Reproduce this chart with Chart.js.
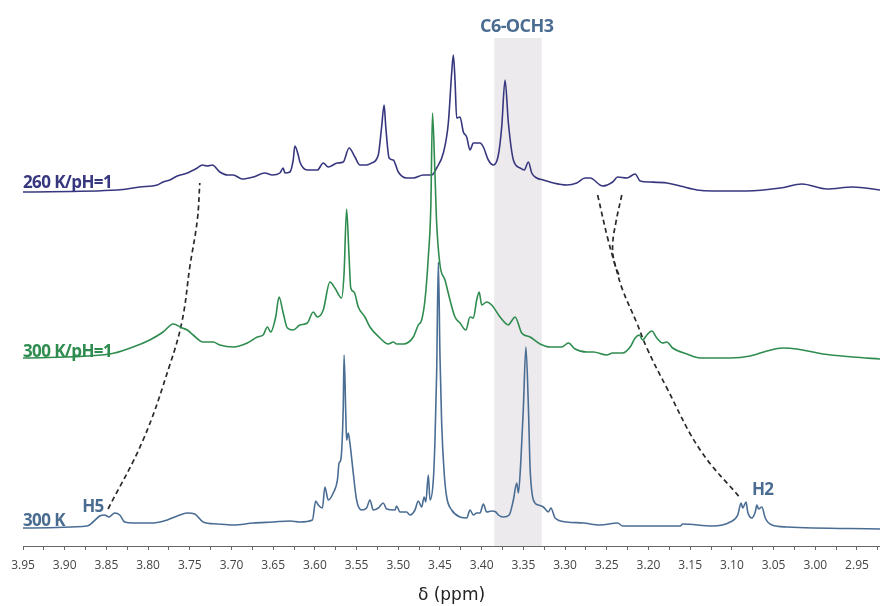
<!DOCTYPE html>
<html>
<head>
<meta charset="utf-8">
<script src="https://cdn.jsdelivr.net/npm/chart.js@4.4.1/dist/chart.umd.min.js"></script>
<style>
  html, body { margin: 0; padding: 0; background: #fff; }
  #nmrChart { display: block; }
</style>
</head>
<body>
<canvas id="nmrChart" width="880" height="606"></canvas>
<script>
// 260 K / pH=1 spectrum (ppm, intensity a.u.)
const ppm260 = [3.950, 3.837, 3.810, 3.789, 3.782, 3.774, 3.765, 3.753, 3.741, 3.735, 3.729, 3.723, 3.714, 3.705, 3.698, 3.687, 3.674, 3.660, 3.651, 3.642, 3.638, 3.636, 3.630, 3.626, 3.624, 3.620, 3.618, 3.609, 3.597, 3.590, 3.584, 3.573, 3.566, 3.559, 3.552, 3.546, 3.538, 3.532, 3.524, 3.520, 3.517, 3.515, 3.511, 3.506, 3.500, 3.490, 3.482, 3.470, 3.460, 3.454, 3.446, 3.440, 3.436, 3.434, 3.432, 3.430, 3.426, 3.422, 3.418, 3.414, 3.410, 3.402, 3.398, 3.392, 3.386, 3.380, 3.376, 3.372, 3.368, 3.362, 3.354, 3.349, 3.344, 3.340, 3.334, 3.326, 3.314, 3.298, 3.286, 3.276, 3.270, 3.255, 3.243, 3.237, 3.226, 3.216, 3.210, 3.198, 3.178, 3.162, 3.142, 3.123, 3.082, 3.042, 3.016, 2.986, 2.955, 2.922];
const int260 = [354, 356, 359, 361, 364, 366, 370, 373, 378, 381, 380, 381, 374, 371, 371, 367, 369, 373, 371, 373, 378, 373, 374, 386, 400, 391, 384, 376, 376, 383, 379, 383, 384, 398, 389, 381, 381, 383, 391, 419, 441, 419, 388, 386, 374, 368, 368, 371, 371, 378, 393, 423, 473, 491, 466, 428, 429, 414, 409, 396, 403, 403, 399, 386, 381, 391, 419, 466, 423, 386, 378, 376, 384, 373, 368, 366, 363, 361, 363, 368, 368, 360, 364, 369, 368, 372, 365, 364, 363, 360, 356, 355, 355, 358, 362, 357, 359, 356];

// 300 K / pH=1 spectrum
const ppm300pH = [3.950, 3.846, 3.818, 3.798, 3.782, 3.770, 3.759, 3.753, 3.746, 3.734, 3.722, 3.714, 3.698, 3.681, 3.669, 3.662, 3.657, 3.653, 3.647, 3.643, 3.638, 3.633, 3.626, 3.618, 3.609, 3.602, 3.597, 3.590, 3.582, 3.576, 3.568, 3.565, 3.562, 3.559, 3.557, 3.553, 3.548, 3.540, 3.534, 3.522, 3.512, 3.506, 3.502, 3.494, 3.482, 3.476, 3.472, 3.468, 3.464, 3.461, 3.459, 3.456, 3.454, 3.450, 3.444, 3.438, 3.432, 3.426, 3.419, 3.414, 3.410, 3.406, 3.403, 3.400, 3.394, 3.388, 3.378, 3.368, 3.365, 3.360, 3.352, 3.342, 3.330, 3.318, 3.304, 3.296, 3.288, 3.274, 3.266, 3.250, 3.243, 3.231, 3.222, 3.216, 3.211, 3.207, 3.202, 3.196, 3.190, 3.183, 3.178, 3.171, 3.154, 3.138, 3.102, 3.078, 3.058, 3.039, 3.022, 2.991, 2.955, 2.922];
const int300pH = [188, 192, 199, 206, 214, 222, 218, 216, 211, 204, 204, 201, 199, 203, 209, 211, 219, 214, 229, 249, 233, 218, 216, 221, 223, 234, 229, 236, 264, 258, 248, 273, 337, 289, 258, 254, 239, 229, 219, 208, 202, 204, 202, 202, 209, 221, 226, 246, 289, 339, 433, 371, 323, 281, 266, 246, 229, 223, 216, 229, 228, 246, 254, 241, 244, 241, 229, 221, 224, 229, 213, 209, 202, 199, 199, 203, 197, 194, 194, 191, 193, 193, 199, 208, 211, 206, 211, 215, 208, 203, 204, 198, 192, 188, 188, 190, 195, 198, 197, 192, 189, 187];

// 300 K spectrum
const ppm300 = [3.950, 3.873, 3.866, 3.858, 3.852, 3.847, 3.840, 3.834, 3.828, 3.818, 3.794, 3.777, 3.765, 3.753, 3.744, 3.734, 3.717, 3.698, 3.674, 3.650, 3.630, 3.618, 3.603, 3.599, 3.596, 3.591, 3.588, 3.584, 3.578, 3.573, 3.571, 3.569, 3.566, 3.565, 3.563, 3.562, 3.560, 3.558, 3.554, 3.550, 3.544, 3.538, 3.534, 3.530, 3.524, 3.518, 3.514, 3.504, 3.502, 3.498, 3.490, 3.486, 3.480, 3.476, 3.472, 3.469, 3.467, 3.464, 3.462, 3.458, 3.456, 3.454, 3.452, 3.450, 3.448, 3.445, 3.442, 3.436, 3.426, 3.418, 3.414, 3.410, 3.406, 3.402, 3.398, 3.394, 3.388, 3.383, 3.380, 3.374, 3.367, 3.362, 3.358, 3.356, 3.353, 3.350, 3.347, 3.344, 3.342, 3.338, 3.332, 3.326, 3.320, 3.317, 3.312, 3.298, 3.278, 3.258, 3.237, 3.231, 3.202, 3.162, 3.159, 3.123, 3.102, 3.093, 3.089, 3.087, 3.083, 3.081, 3.076, 3.072, 3.070, 3.068, 3.064, 3.060, 3.052, 3.034, 2.922];
const int300 = [18, 20, 24, 30, 31, 29, 33, 31, 24, 23, 23, 26, 30, 33, 32, 24, 22, 21, 23, 24, 25, 24, 26, 45, 41, 38, 59, 46, 53, 66, 83, 86, 139, 191, 133, 106, 113, 103, 73, 46, 36, 38, 46, 36, 38, 43, 37, 36, 40, 34, 34, 31, 36, 45, 39, 49, 44, 71, 46, 66, 106, 173, 284, 189, 123, 73, 49, 36, 29, 28, 36, 31, 33, 33, 42, 34, 35, 34, 31, 29, 31, 46, 63, 53, 86, 139, 199, 139, 79, 46, 41, 39, 34, 38, 28, 24, 23, 21, 23, 20, 20, 20, 22, 20, 24, 31, 43, 38, 44, 34, 28, 34, 41, 37, 39, 28, 21, 19, 17];

// dashed guides following H5 and H2 between spectra
const ppmH5 = [3.848, 3.806, 3.774, 3.759, 3.750, 3.741, 3.738];
const intH5 = [37, 106, 181, 226, 279, 326, 363];
const ppmH2a = [3.261, 3.249, 3.239, 3.231, 3.214, 3.202, 3.178, 3.138, 3.090];
const intH2a = [351, 308, 278, 256, 223, 198, 158, 96, 48];
const ppmH2b = [3.232, 3.239, 3.243, 3.241, 3.234];
const intH2b = [351, 324, 301, 284, 268];

// x axis ticks
const tickValues = [3.95, 3.925, 3.9, 3.875, 3.85, 3.825, 3.8, 3.775, 3.75, 3.725, 3.7, 3.675, 3.65, 3.625, 3.6, 3.575, 3.55, 3.525, 3.5, 3.475, 3.45, 3.425, 3.4, 3.375, 3.35, 3.325, 3.3, 3.275, 3.25, 3.225, 3.2, 3.175, 3.15, 3.125, 3.1, 3.075, 3.05, 3.025, 3.0, 2.975, 2.95, 2.925];
const tickText = ['3.95', '', '3.90', '', '3.85', '', '3.80', '', '3.75', '', '3.70', '', '3.65', '', '3.60', '', '3.55', '', '3.50', '', '3.45', '', '3.40', '', '3.35', '', '3.30', '', '3.25', '', '3.20', '', '3.15', '', '3.10', '', '3.05', '', '3.00', '', '2.95', ''];

// shaded C6-OCH3 region
const bandFrom = 3.385;
const bandTo = 3.328;
const bandTop = 508;

const NAVY = '#37377f';
const GREEN = '#2f8c4f';
const BLUE = '#4a6d94';
const LABEL_BLUE = '#4b6c91';

function pts(xs, ys) {
    return xs.map((x, i) => ({ x: x, y: ys[i] }));
}

const labels = [
    { text: '260 K/pH=1', x: 3.950, y: 358, color: NAVY, align: 'left', size: 17 },
    { text: '300 K/pH=1', x: 3.950, y: 189, color: GREEN, align: 'left', size: 17 },
    { text: '300 K', x: 3.950, y: 20, color: LABEL_BLUE, align: 'left', size: 17 },
    { text: 'H5', x: 3.879, y: 34, color: LABEL_BLUE, align: 'left', size: 17 },
    { text: 'H2', x: 3.076, y: 51, color: LABEL_BLUE, align: 'left', size: 17 },
    { text: 'C6-OCH3', x: 3.358, y: 514, color: LABEL_BLUE, align: 'center', size: 18 }
];

const bandPlugin = {
    id: 'band',
    beforeDatasetsDraw(chart) {
        const { ctx, chartArea, scales } = chart;
        const x1 = scales.x.getPixelForValue(bandFrom);
        const x2 = scales.x.getPixelForValue(bandTo);
        const top = scales.y.getPixelForValue(bandTop);
        ctx.save();
        ctx.fillStyle = '#edeaed';
        ctx.fillRect(Math.min(x1, x2), top, Math.abs(x2 - x1), chartArea.bottom - top);
        ctx.restore();
    }
};

const labelPlugin = {
    id: 'labels',
    afterDatasetsDraw(chart) {
        const { ctx, scales } = chart;
        ctx.save();
        ctx.textBaseline = 'alphabetic';
        ctx.letterSpacing = '-0.6px';
        labels.forEach(l => {
            ctx.font = 'bold ' + l.size + 'px "Open Sans"';
            ctx.fillStyle = l.color;
            ctx.textAlign = l.align;
            ctx.fillText(l.text, scales.x.getPixelForValue(l.x), scales.y.getPixelForValue(l.y));
        });
        ctx.restore();
    }
};

const spectrumStyle = { pointRadius: 0, borderWidth: 1.6, cubicInterpolationMode: 'monotone', fill: false };
const guideStyle = { pointRadius: 0, borderWidth: 1.7, tension: 0.4, fill: false, borderColor: '#2a2a2a', borderDash: [5, 3.5] };

new Chart(document.getElementById('nmrChart'), {
    type: 'line',
    data: {
        datasets: [
            { label: '300 K', data: pts(ppm300, int300), borderColor: BLUE, ...spectrumStyle },
            { label: '300 K/pH=1', data: pts(ppm300pH, int300pH), borderColor: GREEN, ...spectrumStyle },
            { label: '260 K/pH=1', data: pts(ppm260, int260), borderColor: NAVY, ...spectrumStyle },
            { label: 'H5', data: pts(ppmH5, intH5), ...guideStyle },
            { label: 'H2 a', data: pts(ppmH2a, intH2a), ...guideStyle },
            { label: 'H2 b', data: pts(ppmH2b, intH2b), ...guideStyle }
        ]
    },
    options: {
        responsive: false,
        animation: false,
        devicePixelRatio: 1,
        layout: { padding: { left: 23, right: 0, top: 0, bottom: 0 } },
        plugins: {
            legend: { display: false },
            tooltip: { enabled: false }
        },
        scales: {
            x: {
                type: 'linear',
                reverse: true,
                min: 2.9224,
                max: 3.95,
                afterBuildTicks: (scale) => {
                    scale.ticks = tickValues.map(v => ({ value: v }));
                },
                afterFit: (scale) => {
                    // let the plot run to the right edge like the original
                    scale.paddingLeft = 0;
                    scale.paddingRight = 0;
                },
                ticks: {
                    autoSkip: false,
                    maxRotation: 0,
                    padding: 8,
                    color: '#444',
                    font: { family: '"Open Sans"', size: 12 },
                    callback: (value, index) => tickText[index]
                },
                grid: { drawOnChartArea: false, drawTicks: true, tickLength: 4, color: '#666' },
                border: { display: true, color: '#666', width: 1 },
                title: {
                    display: true,
                    text: 'δ (ppm)',
                    color: '#222',
                    font: { family: '"DejaVu Sans"', size: 17 },
                    padding: { top: 5.2, bottom: 0 }
                }
            },
            y: { display: false, min: 0, max: 546 }
        }
    },
    plugins: [bandPlugin, labelPlugin]
});
</script>
</body>
</html>
